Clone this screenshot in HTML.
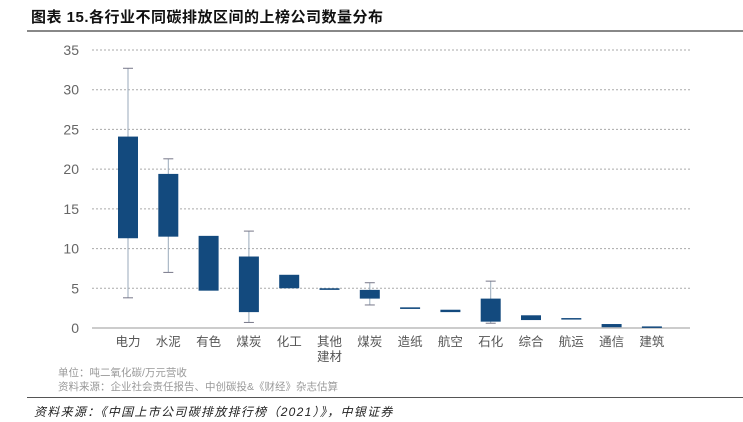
<!DOCTYPE html>
<html><head><meta charset="utf-8"><style>
body{margin:0;width:743px;height:422px;background:#fff;overflow:hidden;position:relative;font-family:"Liberation Sans","Noto Sans CJK SC",sans-serif}
.t{position:absolute;white-space:nowrap}
</style></head><body>
<div class="t" style="left:31px;top:6px;font-size:15px;font-weight:bold;color:#111;letter-spacing:0.5px">图表 15.各行业不同碳排放区间的上榜公司数量分布</div>
<div style="position:absolute;left:27px;top:30px;width:716px;height:2px;background:#888"></div>
<svg id="c" width="743" height="422" style="position:absolute;left:0;top:0"></svg>
<div class="t" style="left:58px;top:365px;font-size:10.5px;color:#999">单位：吨二氧化碳/万元营收</div>
<div class="t" style="left:58px;top:379px;font-size:10.5px;color:#999">资料来源：企业社会责任报告、中创碳投&amp;《财经》杂志估算</div>
<div style="position:absolute;left:27px;top:397px;width:716px;height:1px;background:#555"></div>
<div class="t" style="left:34px;top:403px;font-size:12px;font-style:italic;color:#222;letter-spacing:1.3px">资料来源：《中国上市公司碳排放排行榜（2021）》，中银证券</div>
<script>
const categories=["电力","水泥","有色","煤炭","化工","其他\n建材","煤炭","造纸","航空","石化","综合","航运","通信","建筑"];
const whiskerLow=[3.8,7.0,null,0.7,null,null,2.9,null,null,0.6,null,null,null,null];
const boxLow=[11.3,11.5,4.7,2.0,5.0,4.8,3.7,2.4,2.0,0.8,1.0,1.1,0.1,0.05];
const boxHigh=[24.1,19.4,11.6,9.0,6.7,5.0,4.8,2.6,2.3,3.7,1.6,1.25,0.5,0.2];
const whiskerHigh=[32.7,21.3,null,12.2,null,null,5.7,null,null,5.9,null,null,null,null];
const yTicks=[0,5,10,15,20,25,30,35];
const svg=document.getElementById('c'),NS='http://www.w3.org/2000/svg';
const y0=328,y35=50,xL=92,xR=690,x0=128,step=40.3,bw=20;
const Y=v=>y0-(v/35)*(y0-y35), X=i=>x0+i*step;
function mk(t,a){const e=document.createElementNS(NS,t);for(const k in a)e.setAttribute(k,a[k]);svg.appendChild(e);return e;}
yTicks.forEach(v=>{
 if(v>0){const g=mk('line',{x1:xL,x2:xR,y1:Y(v),y2:Y(v),stroke:'#aaa','stroke-dasharray':'2,2','stroke-width':1});
 
 }
 const t=mk('text',{x:79,y:Y(v)+5,'text-anchor':'end','font-size':14,fill:'#666'});t.textContent=v;
 
 
});
const ax=mk('line',{x1:xL,x2:xR,y1:y0,y2:y0,stroke:'#999','stroke-width':1});


categories.forEach((c,i)=>{
 const x=X(i);
 if(whiskerLow[i]!=null){
  const w=mk('line',{x1:x,x2:x,y1:Y(whiskerHigh[i]),y2:Y(whiskerLow[i]),stroke:'#9ab','stroke-width':1});
  
  
  [whiskerHigh[i],whiskerLow[i]].forEach(v=>{const cap=mk('line',{x1:x-5,x2:x+5,y1:Y(v),y2:Y(v),stroke:'#778','stroke-width':1});
  
  });
 }
 const h=Math.max(Y(boxLow[i])-Y(boxHigh[i]),1.5);
 const b=mk('rect',{x:x-bw/2,y:Y(boxHigh[i]),width:bw,height:h,fill:'#134a7e'});
 
 
 c.split('\n').forEach((s,k)=>{const t=mk('text',{x:x,y:346+k*15,'text-anchor':'middle','font-size':12.5,fill:'#555'});t.textContent=s;
 
 });
});
</script>
</body></html>
